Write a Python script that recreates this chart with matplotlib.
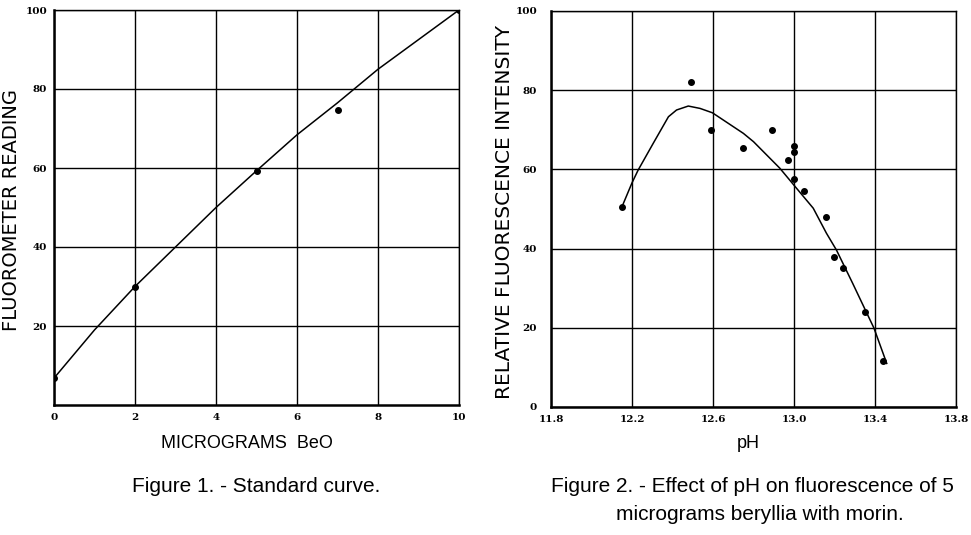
import matplotlib
matplotlib.use("Agg")
import matplotlib.pyplot as plt

# Figure 1 - standard curve
beo_ug = [0, 2, 5, 7, 10]
fluor_reading = [6.8, 30, 59.3, 74.8, 100]
curve1_x = [0, 1, 2, 3, 4, 5, 6, 7, 8, 9, 10]
curve1_y = [6.8, 19, 30, 40, 50, 59.3, 68.4, 76.5, 85, 92.5, 100]

# Figure 2 - effect of pH
ph = [12.15, 12.49, 12.59, 12.75, 12.89, 12.97, 13.0, 13.0, 13.0,
      13.05, 13.16, 13.2, 13.24, 13.35, 13.44]
intensity = [50.5, 82, 70, 65.5, 70, 62.5, 66, 64.5, 57.5,
             54.5, 48, 38, 35, 24, 11.5]
curve2_x = [12.15, 12.2, 12.23, 12.305, 12.38, 12.42, 12.478, 12.536, 12.597,
            12.75, 12.8, 12.93, 13.0, 13.095, 13.16, 13.21, 13.29, 13.395, 13.458]
curve2_y = [50.5, 56.6, 59.8, 66.6, 73.3, 75, 76, 75.4, 74.3,
            69.1, 67, 60.3, 56, 50.2, 43.9, 39.6, 31.2, 19.9, 11]

x1_ticks = [0, 2, 4, 6, 8, 10]
y1_ticks = [20, 40, 60, 80, 100]
x2_ticks = [11.8, 12.2, 12.6, 13.0, 13.4, 13.8]
x2_labels = ["11.8", "12.2", "12.6", "13.0", "13.4", "13.8"]
y2_ticks = [0, 20, 40, 60, 80, 100]

W, H = 971, 535
fig = plt.figure(figsize=(W / 100, H / 100), dpi=100)
fig.patch.set_facecolor("white")

cap_family = ["Liberation Sans", "DejaVu Sans"]


def style_axes(ax, ypad):
    ax.grid(True, color="black", linewidth=1.0)
    ax.set_axisbelow(True)
    ax.tick_params(axis="x", length=0, pad=6)
    ax.tick_params(axis="y", length=0, pad=ypad)
    for side in ["top", "right"]:
        ax.spines[side].set_linewidth(1.0)
    for side in ["left", "bottom"]:
        ax.spines[side].set_linewidth(1.8)
    for lbl in ax.get_xticklabels() + ax.get_yticklabels():
        lbl.set_fontsize(7.5)
        lbl.set_family("DejaVu Serif")
        lbl.set_fontweight("bold")


ax1 = fig.add_axes([54 / W, 1 - 405 / H, 405 / W, 395 / H])
ax1.plot(curve1_x, curve1_y, color="black", linewidth=1.1)
ax1.plot(beo_ug, fluor_reading, "o", color="black", markersize=4)
ax1.set_xlim(0, 10)
ax1.set_ylim(0, 100)
ax1.set_xticks(x1_ticks)
ax1.set_yticks(y1_ticks)
ax1.set_xticklabels([str(t) for t in x1_ticks])
ax1.set_yticklabels([str(t) for t in y1_ticks])
style_axes(ax1, 5)
ax1.set_ylabel("FLUOROMETER READING", fontsize=14)
ax1.yaxis.set_label_coords((12 - 54) / 405, 0.494)
ax1.yaxis.label.set_verticalalignment("center")
ax1.set_xlabel("MICROGRAMS  BeO", fontsize=13, family=cap_family)
ax1.xaxis.set_label_coords((247 - 54) / 405, (405 - 444) / 395)
ax1.xaxis.label.set_verticalalignment("center")

ax2 = fig.add_axes([551 / W, 1 - 407 / H, 405 / W, 396 / H])
ax2.plot(curve2_x, curve2_y, color="black", linewidth=1.1)
ax2.plot(ph, intensity, "o", color="black", markersize=4)
ax2.set_xlim(11.8, 13.8)
ax2.set_ylim(0, 100)
ax2.set_xticks(x2_ticks)
ax2.set_yticks(y2_ticks)
ax2.set_xticklabels(x2_labels)
ax2.set_yticklabels([str(t) for t in y2_ticks])
style_axes(ax2, 10)
ax2.set_ylabel("RELATIVE FLUORESCENCE INTENSITY", fontsize=14.5)
ax2.yaxis.set_label_coords((505 - 551) / 405, 0.492)
ax2.yaxis.label.set_verticalalignment("center")
ax2.set_xlabel("pH", fontsize=13, family=cap_family)
ax2.xaxis.set_label_coords((748 - 551) / 405, (407 - 444) / 396)
ax2.xaxis.label.set_verticalalignment("center")

fig.text(256 / W, 1 - 486 / H, "Figure 1. - Standard curve.", fontsize=15,
         family=cap_family, ha="center", va="center")
fig.text(752 / W, 1 - 486 / H, "Figure 2. - Effect of pH on fluorescence of 5",
         fontsize=15, family=cap_family, ha="center", va="center")
fig.text(760 / W, 1 - 514 / H, "micrograms beryllia with morin.",
         fontsize=15, family=cap_family, ha="center", va="center")

fig.savefig("out.png", dpi=100)
